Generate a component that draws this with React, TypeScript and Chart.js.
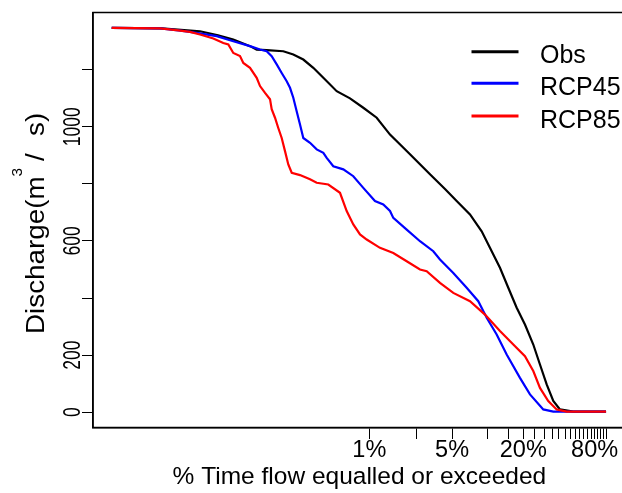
import React, { useEffect, useRef } from 'react';
import { Chart, registerables } from 'chart.js';

Chart.register(...registerables);

const seriesNames = ['Obs', 'RCP45', 'RCP85'];
const seriesColors = ['#000000', '#0000ff', '#ff0000'];

const obsPct = [0.00667, 0.01765, 0.03716, 0.05274, 0.07101, 0.09826, 0.1119, 0.1359, 0.1878, 0.2281, 0.2771, 0.3365, 0.4089, 0.5305, 0.6871, 0.8899, 1.155, 1.496, 2.207, 3.256, 4.359, 5.472, 7.088, 8.898, 10.45, 12.7, 14.93, 17.58, 20.65, 24.28, 27.65, 31.5, 35.83, 40.79, 52.84, 100];
const obsQ = [1347, 1345, 1335, 1321, 1306, 1283, 1271, 1269, 1265, 1254, 1236, 1207, 1172, 1125, 1100, 1067, 1032, 973, 904, 834, 782, 740, 693, 634, 576, 506, 436, 366, 307, 237, 167, 97, 39, 9.5, 2, 2];

const rcp45Pct = [0.00667, 0.0171, 0.02436, 0.03058, 0.05142, 0.07101, 0.09826, 0.1194, 0.1359, 0.1498, 0.1652, 0.182, 0.2006, 0.2139, 0.2281, 0.2435, 0.2599, 0.2771, 0.3157, 0.3594, 0.4089, 0.4367, 0.4965, 0.6032, 0.7326, 0.8899, 1.117, 1.313, 1.496, 1.595, 2.07, 2.681, 3.472, 3.955, 5.123, 6.646, 8.329, 9.808, 11.91, 14.47, 18.74, 22.77, 29.49, 35.83, 43.51, 100];
const rcp45Q = [1347, 1345, 1338, 1333, 1318, 1300, 1283, 1271, 1265, 1248, 1219, 1189, 1160, 1137, 1102, 1055, 1008, 961, 944, 921, 909, 891, 862, 851, 827, 786, 740, 728, 705, 681, 640, 599, 564, 535, 488, 436, 389, 331, 272, 202, 120, 62, 9.5, 2, 2, 2];

const rcp85Pct = [0.00667, 0.0171, 0.02436, 0.03058, 0.03716, 0.04814, 0.05845, 0.06445, 0.07101, 0.08089, 0.08626, 0.09826, 0.1119, 0.1194, 0.1316, 0.145, 0.1498, 0.1598, 0.1703, 0.182, 0.1941, 0.2069, 0.2212, 0.2599, 0.3157, 0.3594, 0.4505, 0.5656, 0.6443, 0.7326, 0.8347, 0.9507, 1.231, 1.595, 2.07, 2.681, 3.053, 3.955, 5.123, 7.088, 9.489, 12.7, 16.46, 20.65, 24.28, 27.65, 32.49, 38.27, 46.47, 100];
const rcp85Q = [1347, 1345, 1338, 1333, 1324, 1310, 1294, 1289, 1259, 1248, 1224, 1207, 1172, 1143, 1119, 1097, 1062, 1032, 996, 961, 915, 868, 839, 831, 816, 804, 798, 769, 705, 658, 623, 605, 576, 558, 529, 500, 494, 453, 418, 389, 342, 284, 237, 196, 144, 85, 39, 9.5, 2, 2];

const xTickValues = [1, 2.5, 5, 10, 15, 20, 25, 30, 35, 40, 45, 50, 55, 60, 65, 70, 75, 80, 85, 90, 95, 100];
const xLabelValues = [1, 5, 20, 80];
const yTickValues = [0, 200, 400, 600, 800, 1000, 1200];
const yLabelValues = [0, 200, 600, 1000];

const xTitle = '% Time flow equalled or exceeded';
const yTitleMain = 'Discharge(m';
const yTitleSup = '3';
const yTitleSlash = '/';
const yTitleEnd = 's)';

const FONT = '"Liberation Sans", Arial, sans-serif';

const toPoints = (xs: number[], ys: number[]) => xs.map((x, i) => ({ x, y: ys[i] }));

const decorPlugin = {
  id: 'decor',
  afterDraw(chart: any) {
    const { ctx, chartArea, scales } = chart;
    const { left, top, right, bottom } = chartArea;
    const xs = scales.x;
    const ys = scales.y;
    ctx.save();
    // frame
    ctx.strokeStyle = '#000';
    ctx.lineWidth = 1.5;
    ctx.strokeRect(left, top, right - left, bottom - top);

    ctx.fillStyle = '#000';
    // x tick labels
    ctx.font = `23.5px ${FONT}`;
    ctx.textAlign = 'center';
    ctx.textBaseline = 'alphabetic';
    xLabelValues.forEach((v) => {
      const px = xs.getPixelForValue(v);
      ctx.fillText(`${v}%`, px, 457);
    });

    // x title
    ctx.font = `24.5px ${FONT}`;
    ctx.fillText(xTitle, (left + right) / 2, 484);

    // y tick labels (rotated, condensed)
    ctx.font = `24px ${FONT}`;
    yLabelValues.forEach((v) => {
      const py = ys.getPixelForValue(v);
      ctx.save();
      ctx.translate(80, py);
      ctx.rotate(-Math.PI / 2);
      ctx.scale(0.73, 1);
      ctx.textAlign = 'center';
      ctx.textBaseline = 'alphabetic';
      ctx.fillText(String(v), 0, 0);
      ctx.restore();
    });

    // y title, drawn bottom-to-top starting at screen y = 334
    ctx.save();
    const mainFont = `25.5px ${FONT}`;
    const supFont = `14px ${FONT}`;
    ctx.translate(43.5, 334);
    ctx.rotate(-Math.PI / 2);
    ctx.scale(1.09, 1);
    ctx.textAlign = 'left';
    ctx.textBaseline = 'alphabetic';
    ctx.font = mainFont;
    ctx.fillText(yTitleMain, 0, 0);
    const w1 = ctx.measureText(yTitleMain).width;
    ctx.font = supFont;
    ctx.fillText(yTitleSup, w1, -22);
    ctx.font = mainFont;
    ctx.fillText(yTitleSlash, (334 - 161) / 1.09, 0);
    ctx.fillText(yTitleEnd, (334 - 136) / 1.09, 0);
    ctx.restore();

    // legend
    const legendY = [51.7, 83.3, 116];
    ctx.font = `25px ${FONT}`;
    ctx.textAlign = 'left';
    ctx.textBaseline = 'alphabetic';
    seriesNames.forEach((name, i) => {
      ctx.strokeStyle = seriesColors[i];
      ctx.lineWidth = 3;
      ctx.beginPath();
      ctx.moveTo(471.5, legendY[i]);
      ctx.lineTo(518.5, legendY[i]);
      ctx.stroke();
      ctx.fillStyle = '#000';
      ctx.fillText(name, 540, legendY[i] + 11.7);
    });
    ctx.restore();
  },
};

export default function App() {
  const canvasRef = useRef<HTMLCanvasElement | null>(null);

  useEffect(() => {
    const canvas = canvasRef.current;
    if (!canvas) return;
    const seriesData = [toPoints(obsPct, obsQ), toPoints(rcp45Pct, rcp45Q), toPoints(rcp85Pct, rcp85Q)];
    const chart = new Chart(canvas, {
      type: 'line',
      data: {
        datasets: seriesNames.map((name, i) => ({
          label: name,
          data: seriesData[i],
          borderColor: seriesColors[i],
          backgroundColor: seriesColors[i],
          borderWidth: 2.2,
          pointRadius: 0,
          tension: 0,
          fill: false,
          order: 3 - i,
        })),
      },
      options: {
        animation: false,
        responsive: false,
        devicePixelRatio: 1,
        layout: { padding: { top: 12.5, right: 14.2, left: 0, bottom: 0 } },
        plugins: { legend: { display: false }, tooltip: { enabled: false } },
        scales: {
          x: {
            type: 'logarithmic',
            position: 'bottom',
            min: 0.004636,
            max: 146.8,
            grid: { drawOnChartArea: false, drawTicks: true, tickLength: 11.5, color: '#000', lineWidth: 1 },
            border: { display: true, color: '#000', width: 1.5 },
            ticks: { display: false, autoSkip: false },
            afterBuildTicks: (s: any) => {
              s.ticks = xTickValues.map((v) => ({ value: v }));
            },
            afterFit: (s: any) => {
              s.height = 65.5;
            },
          },
          y: {
            type: 'linear',
            min: -53.9,
            max: 1400.9,
            grid: { drawOnChartArea: false, drawTicks: true, tickLength: 11, color: '#000', lineWidth: 1 },
            border: { display: true, color: '#000', width: 1.5 },
            ticks: { display: false },
            afterBuildTicks: (s: any) => {
              s.ticks = yTickValues.map((v) => ({ value: v }));
            },
            afterFit: (s: any) => {
              s.width = 93;
            },
          },
        },
      },
      plugins: [decorPlugin],
    } as any);
    return () => chart.destroy();
  }, []);

  return (
    <div style={{ position: 'fixed', left: 0, top: 0, width: 622, height: 493, overflow: 'hidden', background: '#fff' }}>
      <canvas ref={canvasRef} width={640} height={493} style={{ display: 'block', width: 640, height: 493 }} />
    </div>
  );
}
